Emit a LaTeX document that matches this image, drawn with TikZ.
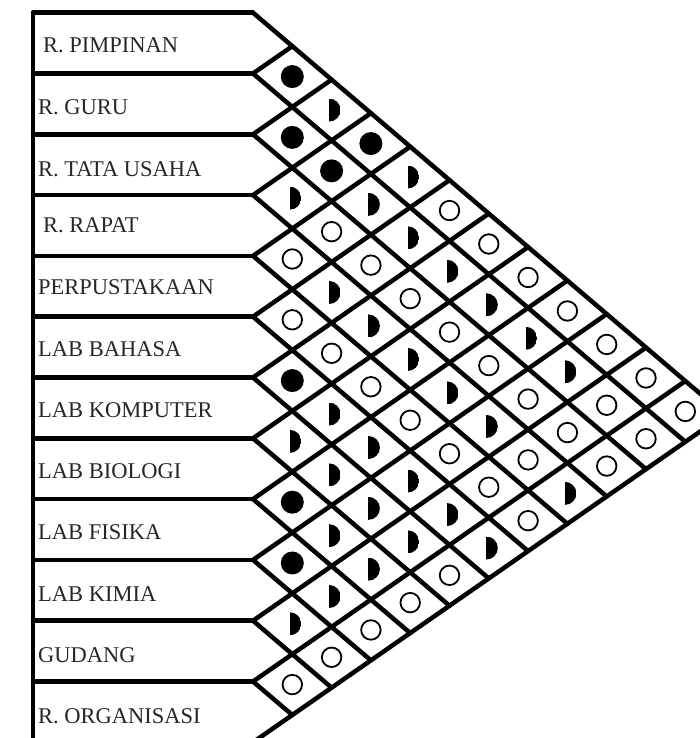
\documentclass[tikz,border=0pt]{standalone}
\usepackage{fontspec}
\setmainfont{Liberation Serif}
\usetikzlibrary{calc}

\begin{document}
\begin{tikzpicture}[
  x=1pt,
  y=-1pt,
  line cap=round,
  line join=round,
  every node/.style={font=\fontsize{22.5}{27}\selectfont},
  grid line/.style={line width=4.5pt,draw=black},
  room label/.style={anchor=base west,inner sep=0pt,text=black!85},
  mark f/.style={circle,fill=black,minimum size=23pt,inner sep=0pt},
  mark o/.style={circle,draw=black,line width=1.8pt,minimum size=19.5pt,inner sep=0pt},
  mark h/.style={circle,minimum size=23pt,inner sep=0pt,xshift=-2.5pt,
    path picture={\fill[black] (path picture bounding box.south) rectangle (path picture bounding box.north east);}},
]
\useasboundingbox (0,0) rectangle (700,738);
\clip (0,0) rectangle (700,738);
% lattice of the grid: p-m-n is where the down line of boundary m meets the up line of boundary n
\def\yo{12.7}
\def\rowh{60.8}
\def\xv{253}
\def\colw{39.3}
\def\slope{0.852}
\foreach \m in {0,...,12}{
  \coordinate (a-\m) at (33,{\yo+\m*\rowh});
  \foreach \n in {\m,...,12}
    \coordinate (p-\m-\n) at ({\xv+(\n-\m)*\colw},{\yo+\m*\rowh+\slope*(\n-\m)*\colw});
}
% row boxes and grid
\draw[grid line] (a-0) -- (a-12);
\foreach \k in {0,...,12}{
  \draw[grid line] (a-\k) -- (p-\k-\k);
  \draw[grid line] (p-\k-\k) -- (p-\k-12);
  \draw[grid line] (p-0-\k) -- (p-\k-\k);
}
% room names
\node[room label] (r1) at (43,53) {R. PIMPINAN};
\node[room label] (r2) at (38,115) {R. GURU};
\node[room label] (r3) at (38,176) {R. TATA USAHA};
\node[room label] (r4) at (43,232) {R. RAPAT};
\node[room label] (r5) at (38,294) {PERPUSTAKAAN};
\node[room label] (r6) at (38,356) {LAB BAHASA};
\node[room label] (r7) at (38,417) {LAB KOMPUTER};
\node[room label] (r8) at (38,478) {LAB BIOLOGI};
\node[room label] (r9) at (38,539) {LAB FISIKA};
\node[room label] (r10) at (38,601) {LAB KIMIA};
\node[room label] (r11) at (38,662) {GUDANG};
\node[room label] (r12) at (38,723) {R. ORGANISASI};
% relations: f = full, h = half, o = open
\foreach \i/\row in {1/{f,h,f,h,o,o,o,o,o,o,o},
                     2/{f,f,h,h,h,h,h,h,o,o},
                     3/{h,o,o,o,o,o,o,o,o},
                     4/{o,h,h,h,h,h,o,h},
                     5/{o,o,o,o,o,o,o},
                     6/{f,h,h,h,h,h},
                     7/{h,h,h,h,o},
                     8/{f,h,h,o},
                     9/{f,h,o},
                     10/{h,o},
                     11/{o}}{
  \foreach \mk [count=\d] in \row{
    \pgfmathtruncatemacro\im{\i-1}
    \pgfmathtruncatemacro\jm{\i+\d-1}
    \pgfmathtruncatemacro\jj{\i+\d}
    \node[mark \mk] (c-\i-\jj) at ($(p-\im-\jm)!0.5!(p-\i-\jj)$) {};
  }
}
\end{tikzpicture}
\end{document}
